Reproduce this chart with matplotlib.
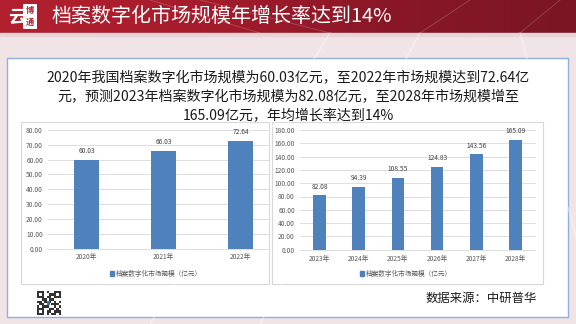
import numpy as np
import matplotlib.pyplot as plt
from matplotlib.patches import Rectangle, FancyBboxPatch, Patch
from matplotlib.colors import LinearSegmentedColormap
from matplotlib.ticker import FormatStrFormatter

plt.rcParams['font.family'] = ['Noto Sans CJK SC', 'DejaVu Sans']

# market size, 2020-2022 actual and 2023-2028 forecast (100 million yuan)
years_hist = ['2020年', '2021年', '2022年']
size_hist = [60.03, 66.03, 72.64]
years_fcst = ['2023年', '2024年', '2025年', '2026年', '2027年', '2028年']
size_fcst = [82.08, 94.39, 108.55, 124.83, 143.56, 165.09]
series_name = '档案数字化市场规模（亿元）'

title = '档案数字化市场规模年增长率达到14%'
summary = ['2020年我国档案数字化市场规模为60.03亿元，至2022年市场规模达到72.64亿',
           '元，预测2023年档案数字化市场规模为82.08亿元，至2028年市场规模增至',
           '165.09亿元，年均增长率达到14%']
source = '数据来源：中研普华'

BLUE = '#4F81BD'
GRID = '#d9d9d9'
W, H = 576, 324

fig = plt.figure(figsize=(W / 100, H / 100), dpi=100)


def box(x0, y0, x1, y1):
    # pixel box (origin top-left) -> figure fraction rect
    return [x0 / W, 1 - y1 / H, (x1 - x0) / W, (y1 - y0) / H]


# background layer in pixel coordinates
bg = fig.add_axes([0, 0, 1, 1], zorder=-5)
bg.axis('off')
bg.add_patch(Rectangle((0, 0), W, H, color='#f1e4e7', zorder=-1))
for x0, x1 in [(330, 150), (420, 260), (520, 600)]:
    bg.plot([x0, x1], [33, H], color='white', lw=0.8, alpha=0.5)

# red header band
hdr = LinearSegmentedColormap.from_list('hdr', ['#b3202f', '#a61c2c', '#8a1727', '#7a1524'])
bg.imshow(np.linspace(0, 1, 200)[None, :], cmap=hdr, extent=(0, W, 33, 0),
          aspect='auto', zorder=0.5)
for x0, x1 in [(150, 260), (200, 330), (470, 420), (560, 520)]:
    bg.plot([x0, x1], [0, 33], color='white', lw=0.7, alpha=0.18)
bg.add_patch(Rectangle((0, 33), W, 3, color='#e8d3d7'))
bg.set_xlim(0, W)
bg.set_ylim(H, 0)

# logo
bg.text(17, 17, '云', color='white', fontsize=13, fontweight='bold', ha='center', va='center')
bg.add_patch(FancyBboxPatch((24, 5), 12, 23, boxstyle='round,pad=1', fc='white', ec='none'))
bg.text(30, 11, '博', color='#b3202f', fontsize=6, ha='center', va='center', fontweight='bold')
bg.text(30, 22, '通', color='#b3202f', fontsize=6, ha='center', va='center', fontweight='bold')

fig.text(52 / W, 1 - 16 / H, title, color='white', fontsize=14.4, ha='left', va='center')

# white content panel
bg.add_patch(Rectangle((7, 58), 561, 259, fc='white', ec='#8eaee0', lw=1))
for i, line in enumerate(summary):
    fig.text(288 / W, 1 - (78 + 19 * i) / H, line, fontsize=10.1, color='#1a1a1a',
             ha='center', va='center')

# chart frames
bg.add_patch(Rectangle((21, 122), 248, 162, fc='white', ec=GRID, lw=0.8))
bg.add_patch(Rectangle((272, 122), 271, 162, fc='white', ec=GRID, lw=0.8))


def bar_chart(rect, cats, vals, ymax, step, xmax, legend_xy):
    ax = fig.add_axes(box(*rect))
    x = np.arange(len(cats))
    ax.bar(x, vals, width=0.32, color=BLUE, zorder=3)
    for xi, v in zip(x, vals):
        ax.annotate(f'{v:.2f}', (xi, v), xytext=(0, 3.3), textcoords='offset points',
                    ha='center', va='bottom', fontsize=4.8, color='#404040')
    ax.set_xlim(-0.5, xmax)
    ax.set_ylim(0, ymax)
    ax.set_yticks(np.arange(0, ymax + 1, step))
    ax.yaxis.set_major_formatter(FormatStrFormatter('%.2f'))
    ax.set_xticks(x, cats)
    ax.tick_params(length=0, labelsize=4.8, labelcolor='#595959', pad=3.6)
    ax.grid(axis='y', color=GRID, lw=0.6)
    for gl in ax.get_ygridlines():
        gl.set_clip_on(False)
    for s in ax.spines.values():
        s.set_visible(False)
    ax.set_facecolor('none')
    ax.legend(handles=[Patch(color=BLUE)], labels=[series_name], loc='center',
              bbox_to_anchor=(legend_xy[0] / W, 1 - legend_xy[1] / H),
              bbox_transform=fig.transFigure, frameon=False, fontsize=4.8,
              handlelength=0.7, handleheight=0.7, handletextpad=0.3, labelcolor='#595959')
    return ax


bar_chart((48, 130, 269, 248.5), years_hist, size_hist, 80, 10, -0.5 + (269 - 48) / 77, (156, 273.5))
bar_chart((300, 130, 535, 249.7), years_fcst, size_fcst, 180, 20, 5.5, (406, 273.5))

# QR code block
qr_rows = [0b1110100111, 0b1010011101, 0b1110110111, 0b0011011000, 0b1101110101,
           0b0110101110, 0b1011100101, 0b1110011010, 0b1010110111, 0b1110101101]
for r, bits in enumerate(qr_rows):
    for c in range(10):
        if bits >> (9 - c) & 1:
            bg.add_patch(Rectangle((37 + c * 2.4, 291 + r * 2.4), 2.4, 2.4, color='#333333', lw=0))
bg.add_patch(Rectangle((47, 301), 3, 4, color='#3a6fc4', lw=0))

fig.text(537 / W, 1 - 298 / H, source, fontsize=8.9, color='#1a1a1a', fontweight='medium',
         ha='right', va='center')

fig.savefig('out.png', dpi=100)
